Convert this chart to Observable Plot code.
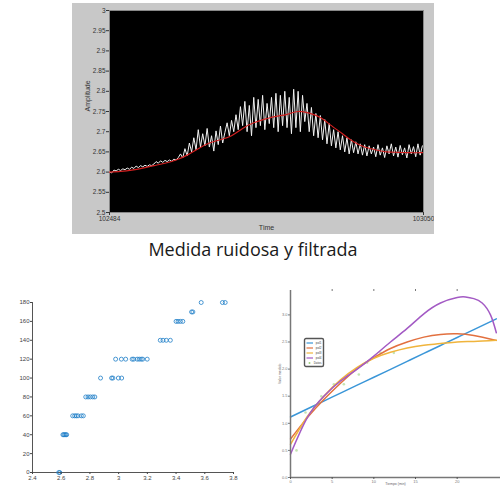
<!DOCTYPE html>
<html><head><meta charset="utf-8">
<script src="https://cdn.jsdelivr.net/npm/d3@7"></script>
<script src="https://cdn.jsdelivr.net/npm/@observablehq/plot@0.6"></script>
<style>
body{margin:0;background:#fff;width:500px;height:486px;position:relative;overflow:hidden;font-family:"Liberation Sans",Arial,sans-serif}
.abs{position:absolute}
#caption{position:absolute;left:0;width:506px;top:237px;text-align:center;font-family:"Open Sans",sans-serif;font-size:18px;color:#1a1a1a;white-space:nowrap}
</style></head><body>
<div id="top" class="abs" style="left:72px;top:3px"></div>
<div id="caption">Medida ruidosa y filtrada</div>
<div id="bl" class="abs" style="left:0px;top:290px"></div>
<div id="br" class="abs" style="left:270px;top:284px"></div>
<div id="legend" class="abs" style="left:303px;top:337px"></div>
<script>
// ---- Top chart: noisy and filtered measurement ----
const timeStart = 102484;
const noisyStep = 4;
const noisyAmplitude = [
 2.600,2.598,2.605,2.603,2.607,2.604,2.608,2.606,2.610,2.607,
 2.612,2.609,2.615,2.611,2.616,2.613,2.617,2.614,2.618,2.616,
 2.620,2.626,2.622,2.628,2.624,2.629,2.626,2.630,2.627,2.632,
 2.630,2.636,
 2.645,2.635,2.658,2.640,2.672,2.650,2.685,2.655,2.705,2.662,
 2.695,2.665,2.708,2.662,2.690,2.652,2.702,2.668,2.714,2.672,
 2.698,
 2.722,2.690,2.728,2.700,2.742,2.705,2.762,2.715,
 2.775,2.700,2.765,2.690,2.785,2.710,2.780,2.715,2.790,2.705,
 2.770,2.720,2.785,2.710,2.795,2.700,2.790,2.715,2.800,2.710,
 2.785,2.695,2.805,2.710,2.800,2.700,2.790,2.725,
 2.770,2.700,2.760,2.690,2.745,2.685,2.740,2.680,2.730,2.670,2.720,2.665,2.705,2.660,
 2.700,2.655,2.690,2.650,2.685,2.645,2.680,2.648,2.675,2.645,2.670,2.642,2.668,2.640,2.665,
 2.645,2.662,2.638,2.668,2.642,2.660,2.636,2.665,2.645,2.670,2.640,2.662,
 2.637,2.666,2.643,2.660,2.635,2.668,2.645,2.663,2.638,2.670,2.642,2.665
];
const filteredStep = 20;
const filteredAmplitude = [
 2.600,2.602,2.605,2.610,2.616,2.622,2.630,2.642,2.658,2.672,
 2.680,2.690,2.708,2.722,2.731,2.738,2.743,2.750,2.746,2.735,
 2.715,2.695,2.675,2.662,2.655,2.650,2.649,2.648,2.648,2.648
];
const amplitudeTicks = [2.5,2.55,2.6,2.65,2.7,2.75,2.8,2.85,2.9,2.95,3];
const timeTicks = [102484,103050];

// ---- Bottom-left scatter ----
const scatterX = [2.583,2.59, 2.612,2.618,2.625,2.632,2.638, 2.68,2.694,2.705,2.717,2.74,2.754,
 2.771,2.787,2.803,2.82,2.834, 2.874,2.951,2.96,2.998,3.021,
 2.979,3.019,3.049,3.094,3.105,3.129,3.143,3.157,3.168,3.199,
 3.29,3.309,3.332,3.36, 3.40,3.414,3.43,3.447, 3.508,3.517, 3.575,3.723,3.742];
const scatterY = [0,0, 40,40,40,40,40, 60,60,60,60,60,60,
 80,80,80,80,80, 100,100,100,100,100,
 120,120,120,120,120,120,120,120,120,120,
 140,140,140,140, 160,160,160,160, 170,170, 180,180,180];
const scatterXTicks = [2.4,2.6,2.8,3,3.2,3.4,3.6,3.8];
const scatterYTicks = [0,20,40,60,80,100,120,140,160,180];

// ---- Bottom-right polynomial fits ----
const fitX = [0,2,4,6,8,10,12,14,16,18,20,22,24.7];
const poly1 = [1.117,1.264,1.410,1.557,1.703,1.850,1.996,2.143,2.290,2.436,2.583,2.729,2.927];
const poly2 = [0.71,1.10,1.44,1.74,2.01,2.21,2.38,2.50,2.59,2.64,2.65,2.62,2.53];
const poly3 = [0.61,1.12,1.50,1.80,2.03,2.20,2.31,2.39,2.44,2.47,2.50,2.51,2.53];
const fitX4 = [0,2,4,6,8,10,12,14,16,18,20,21,22,23,24,24.7];
const poly4 = [0.43,1.10,1.50,1.78,2.00,2.24,2.50,2.75,3.02,3.22,3.32,3.33,3.30,3.22,3.00,2.67];
const datosX = [0.72,1.28,1.8,3.7,5.2,6.4,8.2,9.2,10.8,12.4];
const datosY = [0.50,0.92,1.2,1.5,1.72,1.72,1.9,2.12,2.3,2.3];
const fitXTicks = [0,5,10,15,20];
const fitYTicks = [0,0.5,1,1.5,2,2.5,3];
const seriesNames = ["pol1","pol2","pol3","pol4","Datos"];
const seriesColors = ["#3a96d8","#e2703f","#f0b43c","#a35ac4","#9fd27e"];

// ---- build top chart ----
const noisy = noisyAmplitude.map((v,i)=>({t: timeStart + i*noisyStep, v}));
const filtered = filteredAmplitude.map((v,i)=>({t: timeStart + i*filteredStep, v}));
const topPlot = Plot.plot({
  width: 362, height: 231,
  marginLeft: 37, marginRight: 11, marginTop: 7, marginBottom: 22,
  style: {background:"#c8c8c8", color:"#333", fontSize:"6.5px", fontFamily:"Liberation Sans, Arial, sans-serif"},
  x: {domain:[102484,103050]},
  y: {domain:[2.5,3]},
  marks: [
    Plot.frame({fill:"black", stroke:"#888"}),
    Plot.line(noisy, {x:"t", y:"v", stroke:"#f2f2f2", strokeWidth:1, clip:true}),
    Plot.line(filtered, {x:"t", y:"v", stroke:"#d42020", strokeWidth:1.2, curve:"natural", clip:true}),
    Plot.axisY({ticks: amplitudeTicks, tickFormat: d=>String(d), tickSize:3, tickPadding:1, label:null}),
    Plot.axisX({ticks: timeTicks, tickFormat: d=>String(d), tickSize:3, tickPadding:1, label:null}),
    Plot.text(["Time"], {frameAnchor:"bottom", dy:17, fontSize:7, fill:"#333"}),
    Plot.text(["Amplitude"], {frameAnchor:"left", dx:-22, rotate:-90, fontSize:7, fill:"#333"})
  ]
});
document.getElementById("top").appendChild(topPlot);

// ---- build scatter ----
const scatter = scatterX.map((x,i)=>({x, y: scatterY[i]}));
const blPlot = Plot.plot({
  width: 245, height: 196,
  marginLeft: 32, marginRight: 12, marginTop: 12, marginBottom: 14,
  style: {background:"white", color:"#444", fontSize:"6px", fontFamily:"Liberation Sans, Arial, sans-serif"},
  x: {domain:[2.4,3.8]},
  y: {domain:[0,180]},
  marks: [
    Plot.ruleX([2.4], {stroke:"#555", strokeWidth:1}),
    Plot.ruleY([0], {stroke:"#555", strokeWidth:1}),
    Plot.dot(scatter, {x:"x", y:"y", r:2, stroke:"#1f7fc8", strokeWidth:0.8, fill:"none"}),
    Plot.axisX({ticks: scatterXTicks, tickFormat: d=>String(d), tickSize:2, tickPadding:1, label:null}),
    Plot.axisY({ticks: scatterYTicks, tickFormat: d=>String(d), tickSize:2, tickPadding:1, label:null})
  ]
});
document.getElementById("bl").appendChild(blPlot);

// ---- build fits chart ----
const mk = (xs, ys, name) => xs.map((x,i)=>({x, y: ys[i], s: name}));
const fits = [
  ...mk(fitX, poly1, seriesNames[0]),
  ...mk(fitX, poly2, seriesNames[1]),
  ...mk(fitX, poly3, seriesNames[2]),
  ...mk(fitX4, poly4, seriesNames[3])
];
const datos = datosX.map((x,i)=>({x, y: datosY[i]}));
const brPlot = Plot.plot({
  width: 230, height: 202,
  marginLeft: 20, marginRight: 0, marginTop: 6, marginBottom: 9,
  style: {background:"white", color:"#777", fontSize:"4px", fontFamily:"Liberation Sans, Arial, sans-serif", overflow:"visible"},
  x: {domain:[0,25.2]},
  y: {domain:[0,3.45]},
  color: {domain: seriesNames.slice(0,4), range: seriesColors.slice(0,4)},
  marks: [
    Plot.dot(datos, {x:"x", y:"y", r:1.3, fill:seriesColors[4], fillOpacity:0.6}),
    Plot.line(fits, {x:"x", y:"y", z:"s", stroke:"s", strokeWidth:1.5, curve:"natural"}),
    Plot.ruleX([0], {stroke:"#777", strokeWidth:1.5}),
    Plot.ruleY([0], {stroke:"#777", strokeWidth:1.5}),
    Plot.axisX({ticks: fitXTicks, tickFormat: d=>String(d), tickSize:2, tickPadding:1, label:null, stroke:"#555"}),
    Plot.axisX({anchor:"top", ticks: fitXTicks.slice(1), tickFormat: ()=>"", tickSize:2, label:null}),
    Plot.axisY({ticks: fitYTicks, tickFormat: d=>d.toFixed(1), tickSize:2, tickPadding:1, label:null}),
    Plot.text(["Tiempo (min)"], {frameAnchor:"bottom", dy:7, fontSize:3.5, fill:"#666"}),
    Plot.text(["Valor medido"], {frameAnchor:"left", dx:-11, rotate:-90, fontSize:3.5, fill:"#666"})
  ]
});
document.getElementById("br").appendChild(brPlot);

// ---- legend for fits chart ----
const lg = d3.select("#legend").append("svg").attr("width", 24).attr("height", 32);
lg.append("rect").attr("x",1.5).attr("y",1.5).attr("width",19).attr("height",28).attr("rx",1.5)
  .attr("fill","white").attr("stroke","#555").attr("stroke-width",1.4);
seriesNames.forEach((name, i) => {
  const y = 6 + i*5;
  if (i < 4) {
    lg.append("line").attr("x1",3.5).attr("x2",10).attr("y1",y).attr("y2",y)
      .attr("stroke", seriesColors[i]).attr("stroke-width",1.2);
  } else {
    lg.append("circle").attr("cx",6.5).attr("cy",y).attr("r",1).attr("fill",seriesColors[4]);
  }
  lg.append("text").attr("x",18.5).attr("y",y+1).attr("text-anchor","end")
    .attr("font-size",3).attr("fill","#444").attr("font-family","Liberation Sans, Arial").text(name);
});
</script>
</body></html>
